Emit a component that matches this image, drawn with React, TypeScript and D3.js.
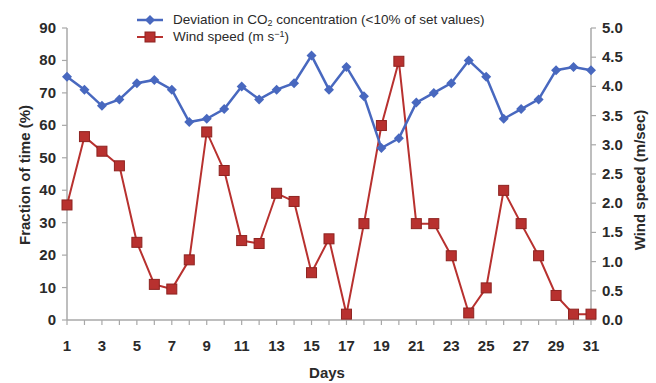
import React from "react";
import * as d3 from "d3";

const days = d3.range(1, 32);
const deviation = [75, 71, 66, 68, 73, 74, 71, 61, 62, 65, 72, 68, 71, 73, 81.5, 71, 78, 69, 53, 56, 67, 70, 73, 80, 75, 62, 65, 68, 77, 78, 77];
const windSpeed = [1.97, 3.14, 2.89, 2.64, 1.33, 0.61, 0.53, 1.03, 3.22, 2.56, 1.36, 1.31, 2.17, 2.03, 0.81, 1.39, 0.1, 1.65, 3.33, 4.43, 1.65, 1.65, 1.1, 0.12, 0.55, 2.22, 1.65, 1.1, 0.42, 0.1, 0.1];
const leftTicks = [0, 10, 20, 30, 40, 50, 60, 70, 80, 90];
const rightTicks = [0, 0.5, 1, 1.5, 2, 2.5, 3, 3.5, 4, 4.5, 5];
const xLabelDays = days.filter((d) => d % 2 === 1);

const W = 656, H = 383;
const x = d3.scaleLinear().domain([1, 31]).range([67, 591]);
const yL = d3.scaleLinear().domain([0, 90]).range([320, 28]);
const yR = d3.scaleLinear().domain([0, 5]).range([320, 28]);

const BLUE = "#4868bf";
const RED = "#b8312f";
const RED_DARK = "#8e2320";
const AXIS = "#a8a8a8";
const TXT = "#2a2a2a";
const tickFont = "'Liberation Sans Narrow', 'Arial Narrow', 'Liberation Sans', Arial, sans-serif";
const font = "'Liberation Sans', Arial, sans-serif";

export default function App() {
  const blueLine = d3.line<number>().x((_, i) => x(days[i])).y((d) => yL(d))(deviation) || "";
  const redLine = d3.line<number>().x((_, i) => x(days[i])).y((d) => yR(d))(windSpeed) || "";
  const diamond = (cx: number, cy: number, r: number) =>
    `M${cx},${cy - r}L${cx + r},${cy}L${cx},${cy + r}L${cx - r},${cy}Z`;
  return (
    <svg width={W} height={H} style={{ position: "absolute", left: 0, top: 0, background: "#fff" }}>
      {/* axes */}
      <line x1={67} x2={67} y1={28} y2={320} stroke={AXIS} strokeWidth={1.5} />
      <line x1={591} x2={591} y1={28} y2={320} stroke={AXIS} strokeWidth={1.5} />
      <line x1={67} x2={591} y1={320} y2={320} stroke={AXIS} strokeWidth={1.5} />
      {leftTicks.map((t) => (
        <g key={"l" + t}>
          <line x1={62} x2={67} y1={yL(t)} y2={yL(t)} stroke={AXIS} strokeWidth={1.2} />
          <text x={56} y={yL(t) + 5} textAnchor="end" fontFamily={tickFont} fontWeight="bold" fontSize={15} fill={TXT}>
            {t}
          </text>
        </g>
      ))}
      {rightTicks.map((t) => (
        <g key={"r" + t}>
          <line x1={591} x2={596} y1={yR(t)} y2={yR(t)} stroke={AXIS} strokeWidth={1.2} />
          <text x={602} y={yR(t) + 5} textAnchor="start" fontFamily={tickFont} fontWeight="bold" fontSize={15} fill={TXT}>
            {t.toFixed(1)}
          </text>
        </g>
      ))}
      {days.map((d) => (
        <line key={"xt" + d} x1={x(d)} x2={x(d)} y1={320} y2={325} stroke={AXIS} strokeWidth={1.2} />
      ))}
      {xLabelDays.map((d) => (
        <text key={"xl" + d} x={x(d)} y={351} textAnchor="middle" fontFamily={tickFont} fontWeight="bold" fontSize={15} fill={TXT}>
          {d}
        </text>
      ))}
      {/* axis titles */}
      <text transform="translate(30,175) rotate(-90)" textAnchor="middle" fontFamily={font} fontWeight="bold" fontSize={15} fill={TXT}>
        Fraction of time (%)
      </text>
      <text transform="translate(645,180) rotate(-90)" textAnchor="middle" fontFamily={font} fontWeight="bold" fontSize={15} fill={TXT}>
        Wind speed (m/sec)
      </text>
      <text x={327} y={378} textAnchor="middle" fontFamily={tickFont} fontWeight="bold" fontSize={15} fill={TXT}>
        Days
      </text>
      {/* series */}
      <path d={redLine} fill="none" stroke={RED} strokeWidth={2} />
      {windSpeed.map((v, i) => (
        <rect key={"rs" + i} x={x(days[i]) - 5} y={yR(v) - 5} width={10} height={10} fill={RED} stroke={RED_DARK} strokeWidth={1} />
      ))}
      <path d={blueLine} fill="none" stroke={BLUE} strokeWidth={2.5} />
      {deviation.map((v, i) => (
        <path key={"bd" + i} d={diamond(x(days[i]), yL(v), 5)} fill={BLUE} />
      ))}
      {/* legend */}
      <line x1={137} x2={163} y1={20} y2={20} stroke={BLUE} strokeWidth={2.5} />
      <path d={diamond(150, 20, 5)} fill={BLUE} />
      <text x={173} y={24} fontFamily={font} fontSize={13.5} fill={TXT}>
        Deviation in CO<tspan dy={2} fontSize={9}>2</tspan><tspan dy={-2}> concentration (&lt;10% of set values)</tspan>
      </text>
      <line x1={137} x2={163} y1={37} y2={37} stroke={RED} strokeWidth={2} />
      <rect x={145} y={32} width={10} height={10} fill={RED} stroke={RED_DARK} strokeWidth={1} />
      <text x={173} y={41} fontFamily={font} fontSize={13.5} fill={TXT}>
        Wind speed (m s<tspan dy={-4} fontSize={9}>−1</tspan><tspan dy={4}>)</tspan>
      </text>
    </svg>
  );
}
